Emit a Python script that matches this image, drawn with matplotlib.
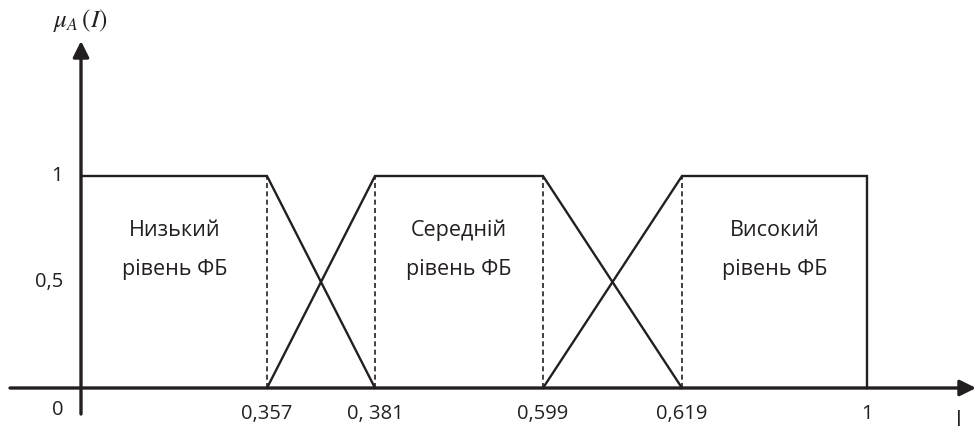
import numpy as np
import matplotlib.pyplot as plt

plt.rcParams['font.family'] = ['Open Sans', 'DejaVu Sans']
plt.rcParams['mathtext.fontset'] = 'stix'

# membership functions (trapezoids)
low_x = [0, 0.357, 0.381]
low_y = [1, 1, 0]
mid_x = [0.357, 0.381, 0.599, 0.619]
mid_y = [0, 1, 1, 0]
high_x = [0.599, 0.619, 1, 1]
high_y = [0, 1, 1, 0]

breaks = [0, 0.357, 0.381, 0.599, 0.619, 1]
xtick_labels = ["0,357", "0, 381", "0,599", "0,619", "1"]
ytick_vals = [0, 0.5, 1]
ytick_labels = ["0", "0,5", "1"]
labels = ["Низький\nрівень ФБ", "Середній\nрівень ФБ", "Високий\nрівень ФБ"]
label_spans = [(0, 0.357), (0.381, 0.599), (0.619, 1)]

# schematic (non-linear) axis: where each break sits on screen
screen_pos = [0, 185, 293, 461, 600, 785]

def fwd(x):
    return np.interp(x, breaks, screen_pos)

def inv(p):
    return np.interp(p, screen_pos, breaks)

col = '#231f20'
fig = plt.figure(figsize=(9.76, 4.3), dpi=100)
ax = fig.add_axes([82/976, 42/430, 785/976, 212/430])
ax.set_xscale('function', functions=(fwd, inv))
ax.set_xlim(0, 1)
ax.set_ylim(0, 1)
ax.axis('off')

for xs, ys in [(low_x, low_y), (mid_x, mid_y), (high_x, high_y)]:
    ax.plot(xs, ys, color=col, lw=1.7, clip_on=False, solid_joinstyle='miter')

for b in breaks[1:-1]:
    ax.plot([b, b], [0, 1], color=col, lw=1.2, ls=(0, (3, 2)), clip_on=False)

for (a, b), t in zip(label_spans, labels):
    xm = inv((fwd(a) + fwd(b)) / 2)
    ax.text(xm, 0.651, t, ha='center', va='center', fontsize=15.5, color=col,
            linespacing=2.1)

# tick labels (offsets in points)
for b, t in zip(breaks[1:], xtick_labels):
    ax.annotate(t, (b, 0), xytext=(0, -18.5), textcoords='offset points',
                ha='center', va='center', fontsize=14.5, color=col)
for v, t in zip(ytick_vals, ytick_labels):
    dy = -16 if v == 0 else 0
    ax.annotate(t, (0, v), xytext=(-13.5, dy), textcoords='offset points',
                ha='right', va='center', fontsize=14.5, color=col)

# axes with arrows (figure pixels)
arr = dict(arrowstyle='-|>', lw=2.4, color=col, mutation_scale=24, shrinkA=0, shrinkB=0)
ax.annotate('', xy=(976, 42), xytext=(10, 42), xycoords='figure pixels',
            textcoords='figure pixels', arrowprops=arr)
ax.annotate('', xy=(81, 389), xytext=(81, 16), xycoords='figure pixels',
            textcoords='figure pixels', arrowprops=arr)

fig.text(959/976, 1 - 420/430, "I", ha='center', va='center', fontsize=15, color=col)
fig.text(80/976, 1 - 20/430, r'$\mu_A\,(I)$', ha='center', va='center', fontsize=18, color=col)

fig.savefig('out.png', dpi=100)
